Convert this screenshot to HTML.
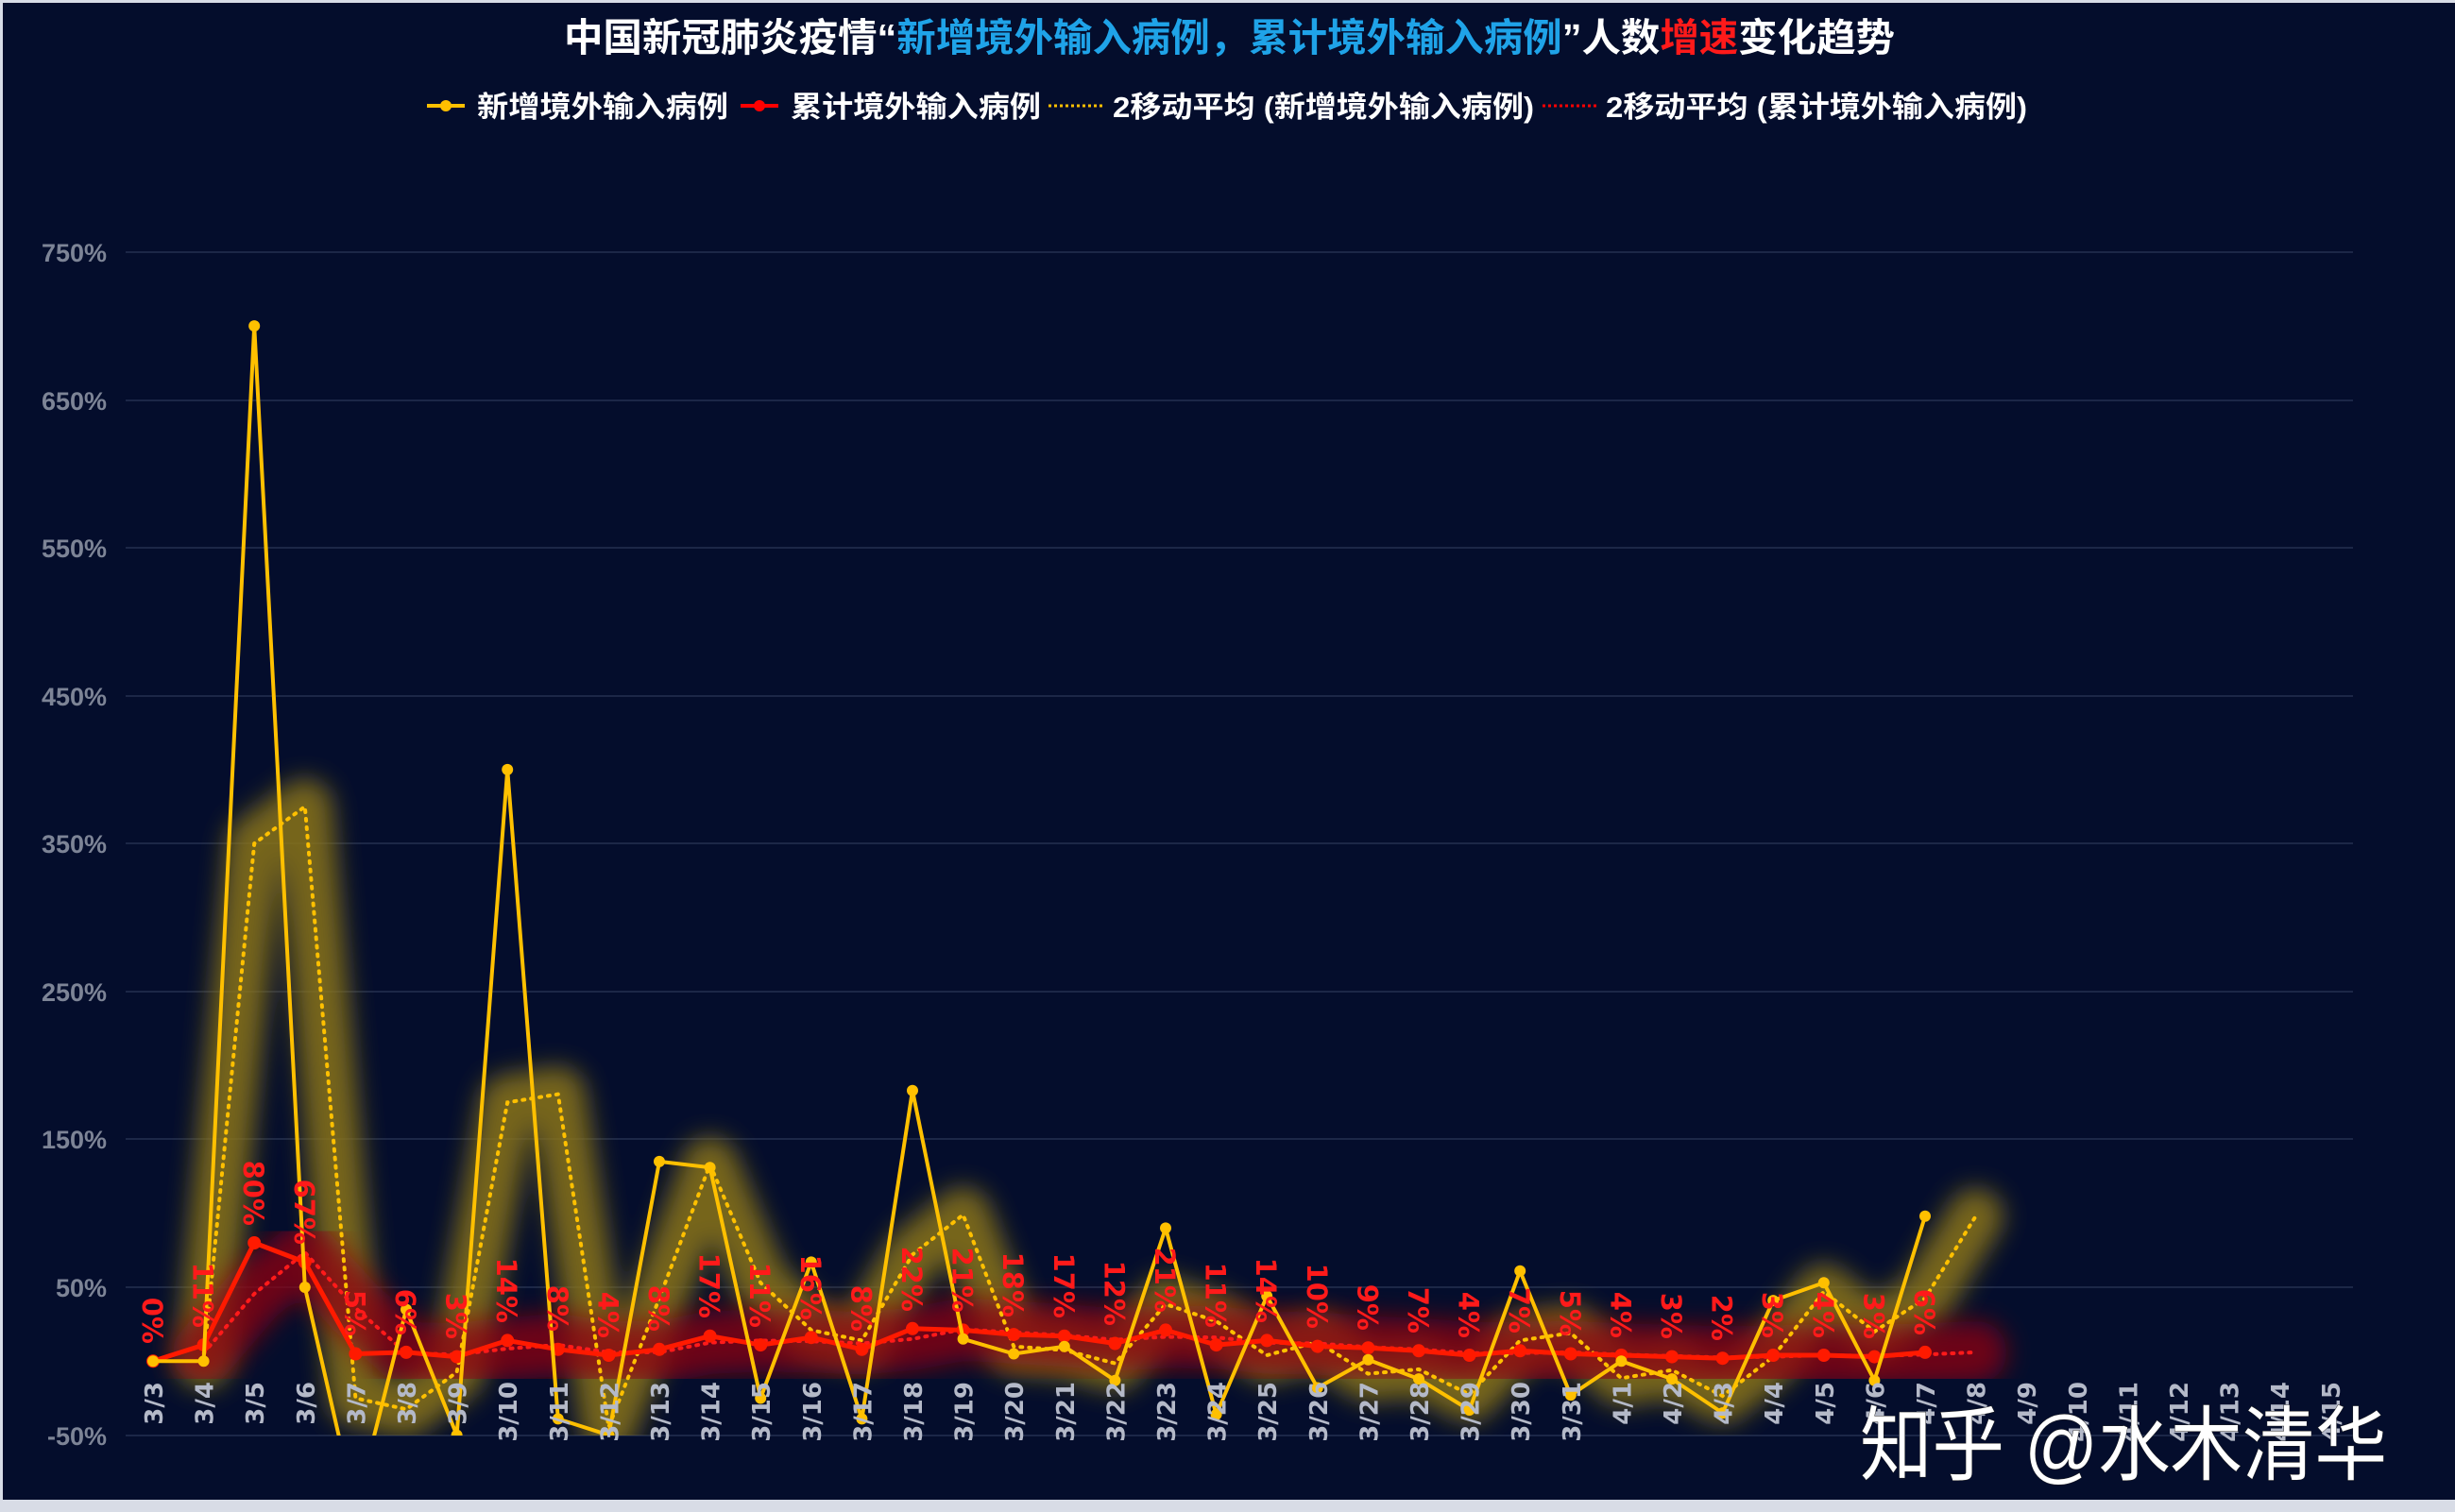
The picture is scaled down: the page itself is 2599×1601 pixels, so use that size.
<!DOCTYPE html>
<html><head><meta charset="utf-8"><style>
html,body{margin:0;padding:0;background:#040d2c;}
svg{display:block;}
</style></head><body>
<svg width="2599" height="1601" viewBox="0 0 2599 1601" xmlns="http://www.w3.org/2000/svg">
<defs>
<filter id="blur" x="-20%" y="-20%" width="140%" height="140%"><feGaussianBlur stdDeviation="13"/></filter>
<clipPath id="pc"><rect x="120" y="200" width="2400" height="1320"/></clipPath>
</defs>
<rect x="0" y="0" width="2599" height="1601" fill="#040d2c"/>
<rect x="0" y="0" width="2599" height="3" fill="#d8dce6"/>
<rect x="0" y="1588" width="2599" height="13" fill="#d8dce6"/>
<rect x="0" y="0" width="3" height="1601" fill="#d8dce6"/>

<!-- title -->
<text x="597" y="54" textLength="1409" lengthAdjust="spacingAndGlyphs" font-family="Liberation Sans, Noto Sans CJK SC, sans-serif" font-size="41" font-weight="bold" fill="#ffffff">中国新冠肺炎疫情“<tspan fill="#1fa3e8">新增境外输入病例，累计境外输入病例</tspan>”人数<tspan fill="#ff1a1a">增速</tspan>变化趋势</text>

<!-- legend -->
<g font-family="Liberation Sans, Noto Sans CJK SC, sans-serif" font-size="31" font-weight="bold" fill="#ffffff">
<line x1="452" y1="112" x2="492" y2="112" stroke="#ffc000" stroke-width="4"/><circle cx="472" cy="112" r="6" fill="#ffc000"/>
<text x="505" y="124" textLength="266" lengthAdjust="spacingAndGlyphs">新增境外输入病例</text>
<line x1="784" y1="112" x2="824" y2="112" stroke="#ff0000" stroke-width="4"/><circle cx="804" cy="112" r="6" fill="#ff0000"/>
<text x="837" y="124" textLength="265" lengthAdjust="spacingAndGlyphs">累计境外输入病例</text>
<line x1="1110" y1="112" x2="1168" y2="112" stroke="#ffc000" stroke-width="3" stroke-dasharray="3,3"/>
<text x="1178" y="124" textLength="446" lengthAdjust="spacingAndGlyphs">2移动平均 (新增境外输入病例)</text>
<line x1="1633" y1="112" x2="1690" y2="112" stroke="#ff0000" stroke-width="3" stroke-dasharray="3,3"/>
<text x="1700" y="124" textLength="446" lengthAdjust="spacingAndGlyphs">2移动平均 (累计境外输入病例)</text>
</g>

<!-- grid -->
<g stroke="#1c2747" stroke-width="2">
<line x1="133" y1="267" x2="2491" y2="267"/>
<line x1="133" y1="424" x2="2491" y2="424"/>
<line x1="133" y1="580" x2="2491" y2="580"/>
<line x1="133" y1="737" x2="2491" y2="737"/>
<line x1="133" y1="893" x2="2491" y2="893"/>
<line x1="133" y1="1050" x2="2491" y2="1050"/>
<line x1="133" y1="1206" x2="2491" y2="1206"/>
<line x1="133" y1="1363" x2="2491" y2="1363"/>
<line x1="133" y1="1520" x2="2491" y2="1520"/>
</g>
<g font-family="Liberation Sans, sans-serif" font-size="27" font-weight="bold" fill="#7d8496" text-anchor="end">
<text x="113" y="277">750%</text>
<text x="113" y="434">650%</text>
<text x="113" y="590">550%</text>
<text x="113" y="747">450%</text>
<text x="113" y="903">350%</text>
<text x="113" y="1060">250%</text>
<text x="113" y="1216">150%</text>
<text x="113" y="1373">50%</text>
<text x="113" y="1530">-50%</text>
</g>

<g clip-path="url(#pc)">
<!-- glows -->
<polyline filter="url(#blur)" fill="none" stroke="#8a7418" stroke-opacity="0.85" stroke-width="58" stroke-linejoin="round" stroke-linecap="round" points="215.6,1441.3 269.2,893.2 322.8,854.1 376.4,1480.5 430,1492.2 483.6,1453 537.2,1167.3 590.8,1158.6 644.4,1511 698,1374.7 751.6,1233 805.2,1358.3 858.8,1408.4 912.4,1419.4 966,1328.5 1019.6,1286.3 1073.2,1425.7 1126.8,1429.6 1180.4,1443.6 1234,1381 1287.6,1399 1341.2,1435 1394.8,1420.9 1448.4,1454.6 1502,1449.9 1555.6,1476.5 1609.2,1419.4 1662.8,1411.5 1716.4,1459.3 1770,1450.7 1823.6,1478.1 1877.2,1436.6 1930.8,1367.7 1984.4,1410 2038,1374.7 2091.6,1287.8"/>
<polyline filter="url(#blur)" fill="none" stroke="#900810" stroke-opacity="0.75" stroke-width="66" stroke-linejoin="round" stroke-linecap="round" points="215.6,1432.7 269.2,1370 322.8,1326.2 376.4,1384.9 430,1432.7 483.6,1434.3 537.2,1428 590.8,1424.1 644.4,1431.9 698,1431.9 751.6,1421.7 805.2,1419.4 858.8,1420.2 912.4,1422.5 966,1417.8 1019.6,1407.6 1073.2,1410.8 1126.8,1413.9 1180.4,1418.6 1234,1415.5 1287.6,1416.2 1341.2,1421.7 1394.8,1422.5 1448.4,1426.4 1502,1428.8 1555.6,1432.7 1609.2,1432.7 1662.8,1431.9 1716.4,1434.3 1770,1435.8 1823.6,1437.4 1877.2,1436.6 1930.8,1435 1984.4,1435.8 2038,1434.3 2091.6,1431.9"/>

<!-- moving averages -->
<polyline fill="none" stroke="#ffc000" stroke-width="4" stroke-dasharray="2,7" stroke-linecap="round" points="215.6,1441.3 269.2,893.2 322.8,854.1 376.4,1480.5 430,1492.2 483.6,1453 537.2,1167.3 590.8,1158.6 644.4,1511 698,1374.7 751.6,1233 805.2,1358.3 858.8,1408.4 912.4,1419.4 966,1328.5 1019.6,1286.3 1073.2,1425.7 1126.8,1429.6 1180.4,1443.6 1234,1381 1287.6,1399 1341.2,1435 1394.8,1420.9 1448.4,1454.6 1502,1449.9 1555.6,1476.5 1609.2,1419.4 1662.8,1411.5 1716.4,1459.3 1770,1450.7 1823.6,1478.1 1877.2,1436.6 1930.8,1367.7 1984.4,1410 2038,1374.7 2091.6,1287.8"/>
<polyline fill="none" stroke="#ff1a1a" stroke-width="4" stroke-dasharray="2,7" stroke-linecap="round" points="215.6,1432.7 269.2,1370 322.8,1326.2 376.4,1384.9 430,1432.7 483.6,1434.3 537.2,1428 590.8,1424.1 644.4,1431.9 698,1431.9 751.6,1421.7 805.2,1419.4 858.8,1420.2 912.4,1422.5 966,1417.8 1019.6,1407.6 1073.2,1410.8 1126.8,1413.9 1180.4,1418.6 1234,1415.5 1287.6,1416.2 1341.2,1421.7 1394.8,1422.5 1448.4,1426.4 1502,1428.8 1555.6,1432.7 1609.2,1432.7 1662.8,1431.9 1716.4,1434.3 1770,1435.8 1823.6,1437.4 1877.2,1436.6 1930.8,1435 1984.4,1435.8 2038,1434.3 2091.6,1431.9"/>

<!-- red series -->
<polyline fill="none" stroke="#ff1a00" stroke-width="5" stroke-linejoin="round" points="162,1441.3 215.6,1424.1 269.2,1316 322.8,1336.4 376.4,1433.5 430,1431.9 483.6,1436.6 537.2,1419.4 590.8,1428.8 644.4,1435 698,1428.8 751.6,1414.7 805.2,1424.1 858.8,1416.2 912.4,1428.8 966,1406.8 1019.6,1408.4 1073.2,1413.1 1126.8,1414.7 1180.4,1422.5 1234,1408.4 1287.6,1424.1 1341.2,1419.4 1394.8,1425.6 1448.4,1427.2 1502,1430.3 1555.6,1435 1609.2,1430.3 1662.8,1433.5 1716.4,1435 1770,1436.6 1823.6,1438.2 1877.2,1435 1930.8,1435 1984.4,1436.6 2038,1431.9"/>
<g fill="#ff1a00">
<circle cx="162" cy="1441.3" r="7"/><circle cx="215.6" cy="1424.1" r="7"/><circle cx="269.2" cy="1316" r="7"/><circle cx="322.8" cy="1336.4" r="7"/><circle cx="376.4" cy="1433.5" r="7"/><circle cx="430" cy="1431.9" r="7"/><circle cx="483.6" cy="1436.6" r="7"/><circle cx="537.2" cy="1419.4" r="7"/><circle cx="590.8" cy="1428.8" r="7"/><circle cx="644.4" cy="1435" r="7"/><circle cx="698" cy="1428.8" r="7"/><circle cx="751.6" cy="1414.7" r="7"/><circle cx="805.2" cy="1424.1" r="7"/><circle cx="858.8" cy="1416.2" r="7"/><circle cx="912.4" cy="1428.8" r="7"/><circle cx="966" cy="1406.8" r="7"/><circle cx="1019.6" cy="1408.4" r="7"/><circle cx="1073.2" cy="1413.1" r="7"/><circle cx="1126.8" cy="1414.7" r="7"/><circle cx="1180.4" cy="1422.5" r="7"/><circle cx="1234" cy="1408.4" r="7"/><circle cx="1287.6" cy="1424.1" r="7"/><circle cx="1341.2" cy="1419.4" r="7"/><circle cx="1394.8" cy="1425.6" r="7"/><circle cx="1448.4" cy="1427.2" r="7"/><circle cx="1502" cy="1430.3" r="7"/><circle cx="1555.6" cy="1435" r="7"/><circle cx="1609.2" cy="1430.3" r="7"/><circle cx="1662.8" cy="1433.5" r="7"/><circle cx="1716.4" cy="1435" r="7"/><circle cx="1770" cy="1436.6" r="7"/><circle cx="1823.6" cy="1438.2" r="7"/><circle cx="1877.2" cy="1435" r="7"/><circle cx="1930.8" cy="1435" r="7"/><circle cx="1984.4" cy="1436.6" r="7"/><circle cx="2038" cy="1431.9" r="7"/>
</g>

<!-- yellow series -->
<polyline fill="none" stroke="#ffc000" stroke-width="4" stroke-linejoin="round" points="162,1441.3 215.6,1441.3 269.2,345.1 322.8,1363 376.4,1597.9 430,1386.5 483.6,1519.6 537.2,814.9 590.8,1502.4 644.4,1519.6 698,1229.9 751.6,1236.2 805.2,1480.5 858.8,1336.4 912.4,1502.4 966,1154.7 1019.6,1417.8 1073.2,1433.5 1126.8,1425.7 1180.4,1461.7 1234,1300.4 1287.6,1497.7 1341.2,1372.4 1394.8,1469.5 1448.4,1439.7 1502,1460.1 1555.6,1493 1609.2,1345.8 1662.8,1477.3 1716.4,1441.3 1770,1460.1 1823.6,1496.1 1877.2,1377.1 1930.8,1358.3 1984.4,1461.7 2038,1287.8"/>
<g fill="#ffc000">
<circle cx="162" cy="1441.3" r="6"/><circle cx="215.6" cy="1441.3" r="6"/><circle cx="269.2" cy="345.1" r="6"/><circle cx="322.8" cy="1363" r="6"/><circle cx="430" cy="1386.5" r="6"/><circle cx="483.6" cy="1519.6" r="6"/><circle cx="537.2" cy="814.9" r="6"/><circle cx="590.8" cy="1502.4" r="6"/><circle cx="644.4" cy="1519.6" r="6"/><circle cx="698" cy="1229.9" r="6"/><circle cx="751.6" cy="1236.2" r="6"/><circle cx="805.2" cy="1480.5" r="6"/><circle cx="858.8" cy="1336.4" r="6"/><circle cx="912.4" cy="1502.4" r="6"/><circle cx="966" cy="1154.7" r="6"/><circle cx="1019.6" cy="1417.8" r="6"/><circle cx="1073.2" cy="1433.5" r="6"/><circle cx="1126.8" cy="1425.7" r="6"/><circle cx="1180.4" cy="1461.7" r="6"/><circle cx="1234" cy="1300.4" r="6"/><circle cx="1287.6" cy="1497.7" r="6"/><circle cx="1341.2" cy="1372.4" r="6"/><circle cx="1394.8" cy="1469.5" r="6"/><circle cx="1448.4" cy="1439.7" r="6"/><circle cx="1502" cy="1460.1" r="6"/><circle cx="1555.6" cy="1493" r="6"/><circle cx="1609.2" cy="1345.8" r="6"/><circle cx="1662.8" cy="1477.3" r="6"/><circle cx="1716.4" cy="1441.3" r="6"/><circle cx="1770" cy="1460.1" r="6"/><circle cx="1823.6" cy="1496.1" r="6"/><circle cx="1877.2" cy="1377.1" r="6"/><circle cx="1930.8" cy="1358.3" r="6"/><circle cx="1984.4" cy="1461.7" r="6"/><circle cx="2038" cy="1287.8" r="6"/>
</g>
</g>

<!-- red data labels -->
<g font-family="DejaVu Sans, sans-serif" font-size="29" font-weight="bold" fill="#ff1a1a" text-anchor="end">
<text transform="translate(151,1423) rotate(90)">0%</text>
<text transform="translate(204.6,1406) rotate(90)">11%</text>
<text transform="translate(258.2,1298) rotate(90)">80%</text>
<text transform="translate(311.8,1318) rotate(90)">67%</text>
<text transform="translate(365.4,1415) rotate(90)">5%</text>
<text transform="translate(419,1414) rotate(90)">6%</text>
<text transform="translate(472.6,1418) rotate(90)">3%</text>
<text transform="translate(526.2,1401) rotate(90)">14%</text>
<text transform="translate(579.8,1410) rotate(90)">8%</text>
<text transform="translate(633.4,1417) rotate(90)">4%</text>
<text transform="translate(687,1410) rotate(90)">8%</text>
<text transform="translate(740.6,1396) rotate(90)">17%</text>
<text transform="translate(794.2,1406) rotate(90)">11%</text>
<text transform="translate(847.8,1398) rotate(90)">16%</text>
<text transform="translate(901.4,1410) rotate(90)">8%</text>
<text transform="translate(955,1389) rotate(90)">22%</text>
<text transform="translate(1008.6,1390) rotate(90)">21%</text>
<text transform="translate(1062.2,1395) rotate(90)">18%</text>
<text transform="translate(1115.8,1396) rotate(90)">17%</text>
<text transform="translate(1169.4,1404) rotate(90)">12%</text>
<text transform="translate(1223,1390) rotate(90)">21%</text>
<text transform="translate(1276.6,1406) rotate(90)">11%</text>
<text transform="translate(1330.2,1401) rotate(90)">14%</text>
<text transform="translate(1383.8,1407) rotate(90)">10%</text>
<text transform="translate(1437.4,1409) rotate(90)">9%</text>
<text transform="translate(1491,1412) rotate(90)">7%</text>
<text transform="translate(1544.6,1417) rotate(90)">4%</text>
<text transform="translate(1598.2,1412) rotate(90)">7%</text>
<text transform="translate(1651.8,1415) rotate(90)">5%</text>
<text transform="translate(1705.4,1417) rotate(90)">4%</text>
<text transform="translate(1759,1418) rotate(90)">3%</text>
<text transform="translate(1812.6,1420) rotate(90)">2%</text>
<text transform="translate(1866.2,1417) rotate(90)">3%</text>
<text transform="translate(1919.8,1417) rotate(90)">4%</text>
<text transform="translate(1973.4,1418) rotate(90)">3%</text>
<text transform="translate(2027,1414) rotate(90)">6%</text>
</g>

<!-- x labels -->
<g font-family="DejaVu Sans, sans-serif" font-size="26" font-weight="bold" fill="#b4b9c8" text-anchor="end">
<text transform="translate(172,1463) rotate(-90)">3/3</text>
<text transform="translate(225.6,1463) rotate(-90)">3/4</text>
<text transform="translate(279.2,1463) rotate(-90)">3/5</text>
<text transform="translate(332.8,1463) rotate(-90)">3/6</text>
<text transform="translate(386.4,1463) rotate(-90)">3/7</text>
<text transform="translate(440,1463) rotate(-90)">3/8</text>
<text transform="translate(493.6,1463) rotate(-90)">3/9</text>
<text transform="translate(547.2,1463) rotate(-90)">3/10</text>
<text transform="translate(600.8,1463) rotate(-90)">3/11</text>
<text transform="translate(654.4,1463) rotate(-90)">3/12</text>
<text transform="translate(708,1463) rotate(-90)">3/13</text>
<text transform="translate(761.6,1463) rotate(-90)">3/14</text>
<text transform="translate(815.2,1463) rotate(-90)">3/15</text>
<text transform="translate(868.8,1463) rotate(-90)">3/16</text>
<text transform="translate(922.4,1463) rotate(-90)">3/17</text>
<text transform="translate(976,1463) rotate(-90)">3/18</text>
<text transform="translate(1029.6,1463) rotate(-90)">3/19</text>
<text transform="translate(1083.2,1463) rotate(-90)">3/20</text>
<text transform="translate(1136.8,1463) rotate(-90)">3/21</text>
<text transform="translate(1190.4,1463) rotate(-90)">3/22</text>
<text transform="translate(1244,1463) rotate(-90)">3/23</text>
<text transform="translate(1297.6,1463) rotate(-90)">3/24</text>
<text transform="translate(1351.2,1463) rotate(-90)">3/25</text>
<text transform="translate(1404.8,1463) rotate(-90)">3/26</text>
<text transform="translate(1458.4,1463) rotate(-90)">3/27</text>
<text transform="translate(1512,1463) rotate(-90)">3/28</text>
<text transform="translate(1565.6,1463) rotate(-90)">3/29</text>
<text transform="translate(1619.2,1463) rotate(-90)">3/30</text>
<text transform="translate(1672.8,1463) rotate(-90)">3/31</text>
<text transform="translate(1726.4,1463) rotate(-90)">4/1</text>
<text transform="translate(1780,1463) rotate(-90)">4/2</text>
<text transform="translate(1833.6,1463) rotate(-90)">4/3</text>
<text transform="translate(1887.2,1463) rotate(-90)">4/4</text>
<text transform="translate(1940.8,1463) rotate(-90)">4/5</text>
<text transform="translate(1994.4,1463) rotate(-90)">4/6</text>
<text transform="translate(2048,1463) rotate(-90)">4/7</text>
<text transform="translate(2101.6,1463) rotate(-90)">4/8</text>
<text transform="translate(2155.2,1463) rotate(-90)">4/9</text>
<text transform="translate(2208.8,1463) rotate(-90)">4/10</text>
<text transform="translate(2262.4,1463) rotate(-90)">4/11</text>
<text transform="translate(2316,1463) rotate(-90)">4/12</text>
<text transform="translate(2369.6,1463) rotate(-90)">4/13</text>
<text transform="translate(2423.2,1463) rotate(-90)">4/14</text>
<text transform="translate(2476.8,1463) rotate(-90)">4/15</text>
</g>

<!-- watermark -->
<text x="1969" y="1560" font-family="Liberation Sans, Noto Sans CJK SC, sans-serif" font-size="86" fill="#ffffff" textLength="558" lengthAdjust="spacingAndGlyphs" style="paint-order:stroke" stroke="#222" stroke-width="1">知乎 @水木清华</text>
</svg>
</body></html>
